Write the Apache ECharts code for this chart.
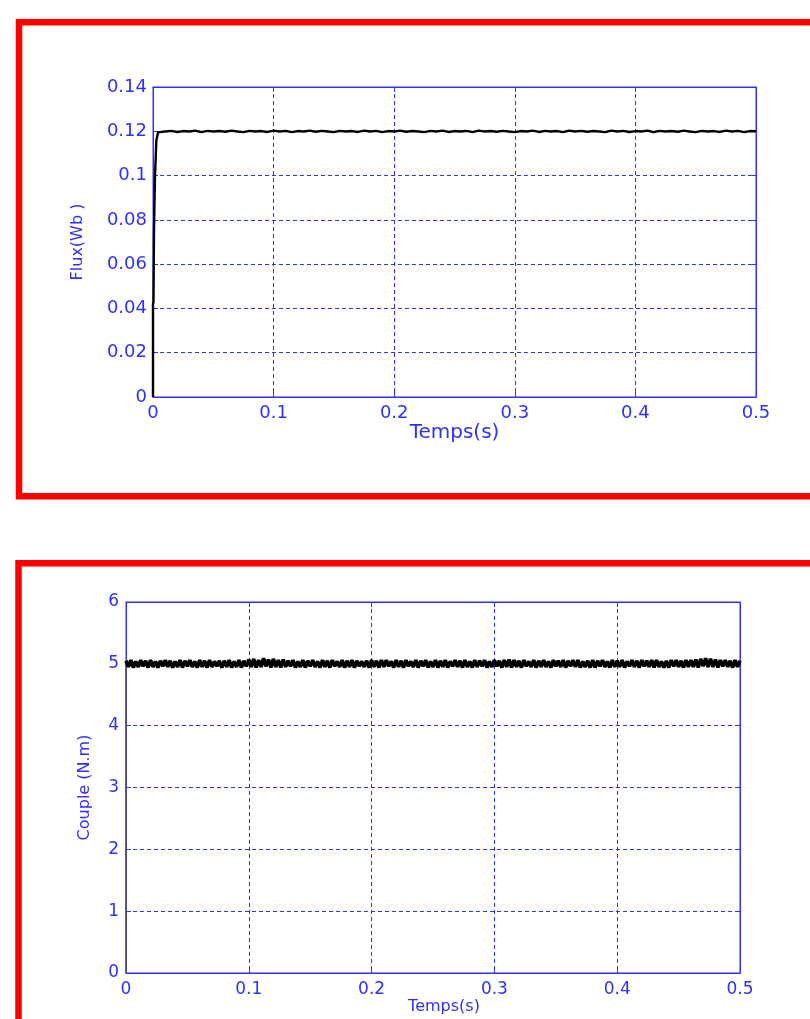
<!DOCTYPE html>
<html>
<head>
<meta charset="utf-8">
<script src="https://cdn.jsdelivr.net/npm/echarts@6/dist/echarts.min.js"></script>
<style>
  html, body { margin: 0; padding: 0; background: #fff; }
  #chart { width: 810px; height: 1019px; }
</style>
</head>
<body>
<div id="chart"></div>
<script>
// tick values
const timeTicks = [0, 0.1, 0.2, 0.3, 0.4, 0.5];
const fluxTicks = [0, 0.02, 0.04, 0.06, 0.08, 0.1, 0.12, 0.14];
const coupleTicks = [0, 1, 2, 3, 4, 5, 6];

// flux start-up (t, Wb)
const fluxRiseTime = [0, 0, 0.0004, 0.0008, 0.0016, 0.0028, 0.0042];
const fluxRiseValue = [0, 0.042, 0.043, 0.074, 0.099, 0.116, 0.1195];

// flux steady part, sampled every 0.005 s from t = 0.005
const fluxStep = 0.005;
const fluxSteady = [
  0.1203, 0.1199, 0.1202, 0.1197, 0.1201, 0.1199, 0.1203, 0.1196, 0.1202, 0.1199,
  0.1201, 0.1198, 0.1203, 0.1199, 0.1196, 0.1202, 0.1199, 0.1201, 0.1197, 0.1203,
  0.1199, 0.1202, 0.1196, 0.1201, 0.1199, 0.1203, 0.1198, 0.1202, 0.1199, 0.1196,
  0.1202, 0.1199, 0.1201, 0.1197, 0.1203, 0.1199, 0.1202, 0.1196, 0.1201, 0.1199,
  0.1203, 0.1198, 0.1201, 0.1199, 0.1196, 0.1202, 0.1199, 0.1203, 0.1197, 0.1201,
  0.1199, 0.1202, 0.1196, 0.1203, 0.1199, 0.1201, 0.1198, 0.1202, 0.1199, 0.1196,
  0.1201, 0.1199, 0.1203, 0.1197, 0.1202, 0.1199, 0.1201, 0.1196, 0.1203, 0.1199,
  0.1202, 0.1198, 0.1201, 0.1199, 0.1196, 0.1203, 0.1199, 0.1202, 0.1197, 0.1201,
  0.1199, 0.1203, 0.1196, 0.1202, 0.1199, 0.1201, 0.1198, 0.1203, 0.1199, 0.1196,
  0.1202, 0.1199, 0.1201, 0.1197, 0.1203, 0.1199, 0.1202, 0.1196, 0.1201, 0.1200
];

// couple: starts at 0, then ripples around 5 N.m, sampled every 0.002 s from t = 0
const coupleInitial = 0;
const coupleStep = 0.002;
const coupleValues = [
  5.05, 4.95, 5.06, 4.94, 5.04, 4.95, 5.06, 4.96, 5.05, 4.94,
  5.06, 4.95, 5.04, 4.94, 5.05, 4.96, 5.06, 4.95, 5.05, 4.94,
  5.04, 4.95, 5.06, 4.94, 5.05, 4.96, 5.06, 4.95, 5.04, 4.94,
  5.06, 4.95, 5.05, 4.94, 5.06, 4.95, 5.04, 4.96, 5.05, 4.94,
  5.05, 4.95, 5.06, 4.94, 5.04, 4.95, 5.06, 4.94, 5.05, 4.96,
  5.07, 4.95, 5.08, 4.94, 5.06, 4.95, 5.09, 4.96, 5.07, 4.94,
  5.08, 4.95, 5.06, 4.94, 5.07, 4.95, 5.05, 4.96, 5.06, 4.94,
  5.04, 4.95, 5.06, 4.94, 5.05, 4.96, 5.06, 4.95, 5.04, 4.94,
  5.06, 4.95, 5.05, 4.94, 5.06, 4.96, 5.04, 4.95, 5.06, 4.94,
  5.05, 4.95, 5.06, 4.94, 5.05, 4.96, 5.04, 4.95, 5.05, 4.94,
  5.06, 4.95, 5.05, 4.94, 5.06, 4.95, 5.06, 4.96, 5.04, 4.94,
  5.06, 4.95, 5.05, 4.94, 5.06, 4.96, 5.04, 4.95, 5.06, 4.94,
  5.05, 4.96, 5.06, 4.94, 5.04, 4.95, 5.06, 4.94, 5.05, 4.95,
  5.06, 4.94, 5.04, 4.96, 5.06, 4.95, 5.05, 4.94, 5.06, 4.95,
  5.04, 4.94, 5.06, 4.95, 5.05, 4.96, 5.06, 4.94, 5.04, 4.95,
  5.06, 4.96, 5.05, 4.94, 5.06, 4.95, 5.07, 4.94, 5.06, 4.95,
  5.05, 4.94, 5.06, 4.96, 5.04, 4.95, 5.06, 4.94, 5.05, 4.95,
  5.06, 4.95, 5.04, 4.94, 5.06, 4.96, 5.05, 4.95, 5.06, 4.94,
  5.05, 4.96, 5.06, 4.95, 5.06, 4.94, 5.04, 4.95, 5.05, 4.94,
  5.06, 4.94, 5.05, 4.96, 5.06, 4.95, 5.04, 4.94, 5.06, 4.95,
  5.05, 4.95, 5.06, 4.94, 5.04, 4.96, 5.06, 4.95, 5.05, 4.94,
  5.06, 4.96, 5.05, 4.95, 5.06, 4.94, 5.06, 4.95, 5.04, 4.94,
  5.05, 4.94, 5.06, 4.96, 5.06, 4.95, 5.05, 4.94, 5.06, 4.95,
  5.06, 4.95, 5.07, 4.94, 5.08, 4.96, 5.09, 4.95, 5.08, 4.95,
  5.07, 4.94, 5.06, 4.96, 5.06, 4.95, 5.05, 4.94, 5.06, 4.95,
  5.05
];

const blue = "#2f2fff";
const font = "DejaVu Sans";

const fluxData = fluxRiseTime.map((t, i) => [t, fluxRiseValue[i]]);
fluxSteady.forEach((v, i) => fluxData.push([+(fluxStep * (i + 1)).toFixed(4), v]));

const coupleJump = [[0, coupleInitial], [0, coupleValues[0]]];
const coupleData = coupleValues.map((v, i) => [+(coupleStep * i).toFixed(4), v]);

const chart = echarts.init(document.getElementById("chart"));

function mainX(gridIndex, fontSize, nameSize, nameGap, labelMargin, namePad) {
  return {
    type: "value",
    gridIndex: gridIndex,
    min: timeTicks[0],
    max: timeTicks[timeTicks.length - 1],
    interval: timeTicks[1] - timeTicks[0],
    name: "Temps(s)",
    nameLocation: "middle",
    nameGap: nameGap,
    nameTextStyle: { color: blue, fontFamily: font, fontSize: nameSize, padding: namePad },
    axisLine: { show: true, onZero: false, lineStyle: { color: blue, width: 1 } },
    axisTick: { show: true, inside: true, length: 5, lineStyle: { color: blue } },
    axisLabel: { color: blue, fontFamily: font, fontSize: fontSize, margin: labelMargin },
    splitLine: { show: true, lineStyle: { color: blue, type: [4, 3], width: 1 } },
  };
}

function mainY(gridIndex, ticks, name, fontSize, nameSize, nameGap, labelMargin) {
  return {
    type: "value",
    gridIndex: gridIndex,
    min: ticks[0],
    max: ticks[ticks.length - 1],
    interval: ticks[1] - ticks[0],
    name: name,
    nameLocation: "middle",
    nameGap: nameGap,
    nameTextStyle: { color: blue, fontFamily: font, fontSize: nameSize },
    axisLine: { show: true, onZero: false, lineStyle: { color: blue, width: 1 } },
    axisTick: { show: true, inside: true, length: 5, lineStyle: { color: blue } },
    axisLabel: { color: blue, fontFamily: font, fontSize: fontSize, margin: labelMargin },
    splitLine: { show: true, lineStyle: { color: blue, type: [4, 3], width: 1 } },
  };
}

// mirror axes give the ticks on top / right like the original plot
function mirrorX(gridIndex) {
  return {
    type: "value", gridIndex: gridIndex, position: "top",
    min: timeTicks[0], max: timeTicks[timeTicks.length - 1],
    interval: timeTicks[1] - timeTicks[0],
    axisLine: { show: true, onZero: false, lineStyle: { color: blue } },
    axisTick: { show: true, inside: true, length: 5, lineStyle: { color: blue } },
    axisLabel: { show: false }, splitLine: { show: false },
  };
}
function mirrorY(gridIndex, ticks) {
  return {
    type: "value", gridIndex: gridIndex, position: "right",
    min: ticks[0], max: ticks[ticks.length - 1],
    interval: ticks[1] - ticks[0],
    axisLine: { show: true, onZero: false, lineStyle: { color: blue } },
    axisTick: { show: true, inside: true, length: 5, lineStyle: { color: blue } },
    axisLabel: { show: false }, splitLine: { show: false },
  };
}

const option = {
  animation: false,
  backgroundColor: "#ffffff",
  graphic: [
    {
      type: "rect", z: 100,
      shape: { x: 19, y: 22.3, width: 830, height: 474 },
      style: { fill: "none", stroke: "#ff0000", lineWidth: 6.5 },
    },
    {
      type: "rect", z: 100,
      shape: { x: 18.5, y: 563.3, width: 830, height: 520 },
      style: { fill: "none", stroke: "#ff0000", lineWidth: 6.5 },
    },
  ],
  grid: [
    { left: 153, top: 87, width: 603, height: 310, show: true, borderColor: blue, borderWidth: 1 },
    { left: 126, top: 602, width: 614, height: 371, show: true, borderColor: blue, borderWidth: 1 },
  ],
  xAxis: [
    mainX(0, 18, 20, 25, 7, 0),
    mainX(1, 17, 16, 26, 8, [0, 0, 0, 22]),
    mirrorX(0),
    mirrorX(1),
  ],
  yAxis: [
    mainY(0, fluxTicks, "Flux(Wb )", 18, 16, 67, 6),
    mainY(1, coupleTicks, "Couple (N.m)", 17, 16, 33, 7),
    mirrorY(0, fluxTicks),
    mirrorY(1, coupleTicks),
  ],
  series: [
    {
      name: "Flux",
      type: "line",
      xAxisIndex: 0,
      yAxisIndex: 0,
      data: fluxData,
      showSymbol: false,
      lineStyle: { color: "#000000", width: 2.4 },
      z: 5,
    },
    {
      name: "Couple jump",
      type: "line",
      xAxisIndex: 1,
      yAxisIndex: 1,
      data: coupleJump,
      showSymbol: false,
      lineStyle: { color: "#555555", width: 1.5 },
      z: 5,
    },
    {
      name: "Couple",
      type: "line",
      xAxisIndex: 1,
      yAxisIndex: 1,
      data: coupleData,
      showSymbol: false,
      lineStyle: { color: "#000000", width: 3.6 },
      z: 5,
    },
  ],
};

chart.setOption(option);
</script>
</body>
</html>
